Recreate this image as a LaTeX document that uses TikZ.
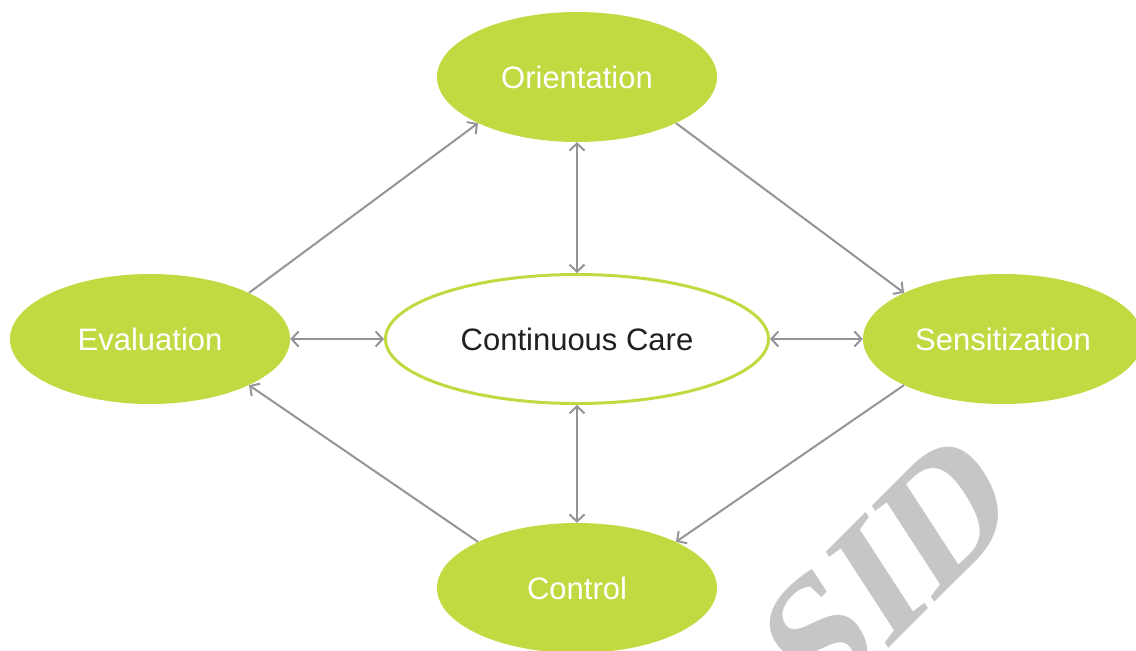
\documentclass[tikz,border=0pt]{standalone}
\usepackage{fontspec}
\setmainfont{Liberation Sans}
\newfontfamily\wmfont{Liberation Serif}
\usetikzlibrary{arrows.meta,shapes.geometric}
\definecolor{lime}{HTML}{C3D941}
\definecolor{arrowgray}{HTML}{949599}
\definecolor{wmgray}{HTML}{C6C6C6}
\definecolor{txtdark}{HTML}{231F20}
\tikzset{
  greenell/.style={ellipse, fill=lime, draw=none, minimum width=280pt, minimum height=130pt, inner sep=0pt,
    text=white, font=\fontsize{31}{36}\selectfont},
  centerell/.style={ellipse, fill=white, draw=lime, line width=3pt, minimum width=383pt, minimum height=129pt, inner sep=0pt,
    text=txtdark, font=\fontsize{31}{36}\selectfont},
  conn/.style={draw=arrowgray, line width=2pt, -{Straight Barb[length=7pt,width=15pt,line width=2pt]}},
  biconn/.style={draw=arrowgray, line width=2pt, {Straight Barb[length=7pt,width=15pt,line width=2pt]}-{Straight Barb[length=7pt,width=15pt,line width=2pt]}}
}
\begin{document}
\begin{tikzpicture}[x=1pt,y=-1pt]
\useasboundingbox (0,0) rectangle (1136,651);
\clip (0,0) rectangle (1136,651);
% watermark
\node[cm={0.707,0.707,-0.545,0.839,(0,0)}, text=wmgray, font=\fontsize{175}{175}\wmfont\bfseries, inner sep=0pt] (wm) at (888,570) {SID};
% nodes
\node[greenell] (orient) at (577,77) {Orientation};
\node[greenell] (eval) at (150,339) {Evaluation};
\node[greenell] (sens) at (1003,339) {Sensitization};
\node[greenell] (ctrl) at (577,588) {Control};
\node[centerell] (cc) at (577,339) {Continuous Care};
% connectors
\draw[biconn] (orient.south) -- (cc.north);
\draw[biconn] (ctrl.north) -- (cc.south);
\draw[biconn] (eval.east) -- (cc.west);
\draw[biconn] (sens.west) -- (cc.east);
\draw[conn] (eval.25) -- (orient.205);
\draw[conn] (orient.335) -- (sens.155);
\draw[conn] (sens.205) -- (ctrl.25);
\draw[conn] (ctrl.155) -- (eval.335);
\end{tikzpicture}
\end{document}
